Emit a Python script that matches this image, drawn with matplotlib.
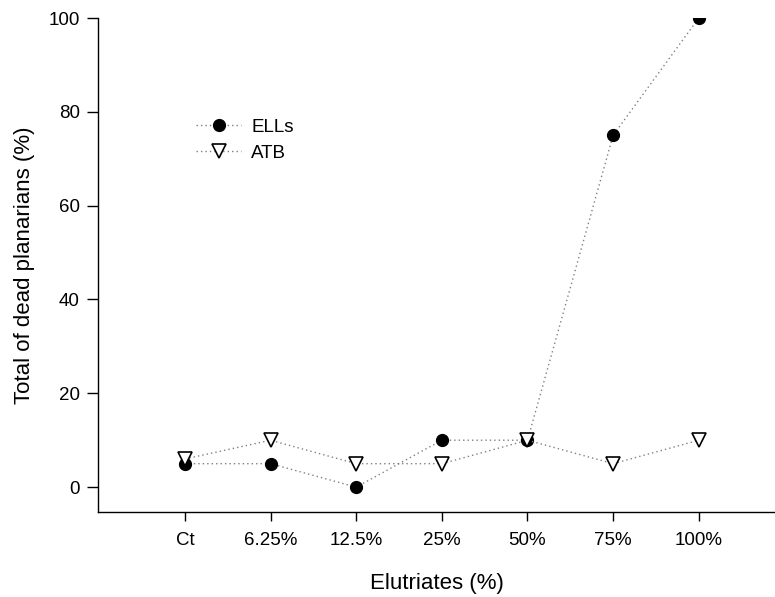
import matplotlib
matplotlib.use("Agg")
import matplotlib.pyplot as plt

# Mortality of planarians exposed to elutriates
categories = ["Ct", "6.25%", "12.5%", "25%", "50%", "75%", "100%"]
ells = [5, 5, 0, 10, 10, 75, 100]
atb = [6, 10, 5, 5, 10, 5, 10]

plt.rcParams["font.family"] = ["Liberation Sans", "DejaVu Sans"]

fig = plt.figure(figsize=(7.75, 5.97), dpi=100)
ax = fig.add_axes([98 / 775, 1 - 512 / 597, (775 - 98) / 775, (512 - 18) / 597])

x = list(range(len(categories)))
line_kw = dict(color="#808080", linestyle=(0, (1, 2.2)), linewidth=1.0)
ax.plot(x, ells, marker="o", markersize=8.5, markerfacecolor="black",
        markeredgecolor="black", label="ELLs", **line_kw)
ax.plot(x, atb, marker="v", markersize=9.5, markerfacecolor="white",
        markeredgecolor="black", markeredgewidth=1.2, label="ATB", **line_kw)

ax.set_xlim(-1.015, 6.89)
ax.set_ylim(-5.3, 100)
ax.set_xticks(x)
ax.set_xticklabels(categories)
ax.set_yticks([0, 20, 40, 60, 80, 100])

for side in ("top", "right"):
    ax.spines[side].set_visible(False)
for side in ("left", "bottom"):
    ax.spines[side].set_linewidth(1.0)
ax.tick_params(axis="x", direction="out", length=6.5, width=1.0,
               labelsize=13.5, pad=8)
ax.tick_params(axis="y", direction="out", length=8, width=1.0,
               labelsize=13.5, pad=5)

ax.set_xlabel("Elutriates (%)", fontsize=16, labelpad=17)
ax.set_ylabel("Total of dead planarians (%)", fontsize=16, labelpad=10)

ax.legend(loc="upper left", bbox_to_anchor=(0.12, 0.83), frameon=False,
          fontsize=13.5, handlelength=2.4, handletextpad=0.55, labelspacing=0.45)

fig.savefig("out.png", dpi=100)
